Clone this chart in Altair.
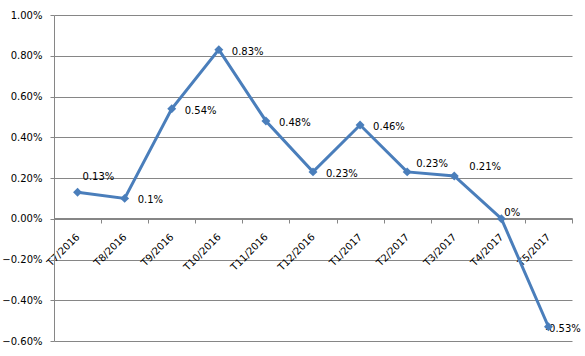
import altair as alt
import pandas as pd

months = ["T7/2016", "T8/2016", "T9/2016", "T10/2016", "T11/2016", "T12/2016",
          "T1/2017", "T2/2017", "T3/2017", "T4/2017", "T5/2017"]
values = [0.13, 0.10, 0.54, 0.83, 0.48, 0.23, 0.46, 0.23, 0.21, 0.00, -0.53]
labels = ["0.13%", "0.1%", "0.54%", "0.83%", "0.48%", "0.23%", "0.46%",
          "0.23%", "0.21%", "0%", "-0.53%"]
y_ticks = [-0.006, -0.004, -0.002, 0.0, 0.002, 0.004, 0.006, 0.008, 0.01]

df = pd.DataFrame({
    "month": months,
    "v": [v / 100 for v in values],
    "label": labels,
})

FONT = "DejaVu Sans"
BLUE = "#4A7EBB"
GRID = "#868686"

x_enc = alt.X(
    "month:N", sort=months,
    scale=alt.Scale(paddingInner=0, paddingOuter=0),
    axis=alt.Axis(
        title=None, labelAngle=-45, labelAlign="right", labelBaseline="middle",
        tickBand="extent", tickSize=5, tickColor=GRID, domainColor=GRID,
        labelPadding=12, offset=-123, grid=False, labelFont=FONT,
        labelFontSize=10, labelColor="#000000",
    ),
)
y_enc = alt.Y(
    "v:Q",
    scale=alt.Scale(domain=[-0.006, 0.01], nice=False, zero=False),
    axis=alt.Axis(
        title=None, values=y_ticks, format=".2%", tickSize=4, tickColor=GRID,
        domainColor=GRID, gridColor=GRID, gridOpacity=1, labelPadding=8,
        labelFont=FONT, labelFontSize=10, labelColor="#000000",
    ),
)

base = alt.Chart(df).encode(x=x_enc, y=y_enc)

line = base.mark_line(color=BLUE, strokeWidth=3)
points = base.mark_point(shape="diamond", filled=True, color=BLUE, size=80, opacity=1)


def text_layer(names, dx, dy):
    return base.mark_text(
        align="left", baseline="middle", dx=dx, dy=dy, font=FONT,
        fontSize=10, color="#000000",
    ).encode(text="label:N").transform_filter(
        alt.FieldOneOfPredicate(field="month", oneOf=names)
    )


texts = [
    text_layer(["T8/2016", "T9/2016", "T10/2016", "T11/2016", "T12/2016", "T1/2017"], 13, 2),
    text_layer(["T7/2016"], 5, -15),
    text_layer(["T2/2017"], 9, -8),
    text_layer(["T3/2017"], 15, -9),
    text_layer(["T4/2017"], 3, -6),
    text_layer(["T5/2017"], -3, 2),
]

chart = alt.layer(line, *texts, points).properties(
    width=518, height=326,
    autosize=alt.AutoSizeParams(type="none"),
    padding={"left": 54, "top": 15, "right": 13, "bottom": 15},
    background="white",
).configure_view(stroke=None)

chart.save("out.html", embed_options={"renderer": "svg", "actions": False})
